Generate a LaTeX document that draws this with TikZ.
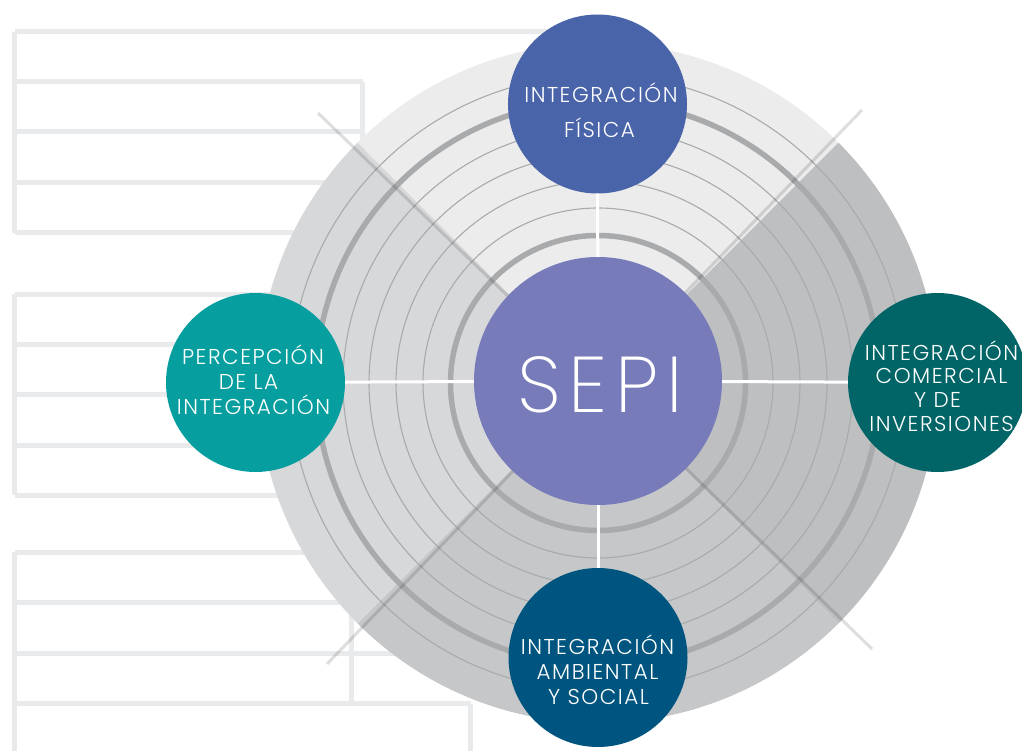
\documentclass[tikz,border=0pt]{standalone}
\usepackage{fontspec}
\newfontfamily\lightfont{Poppins Light}[LetterSpace=7]
\newfontfamily\thinfont{Poppins ExtraLight}[LetterSpace=10]
\definecolor{tbl}{HTML}{E9EAEB}
\definecolor{qT}{HTML}{ECECEC}
\definecolor{qR}{HTML}{BEBFC1}
\definecolor{qB}{HTML}{C6C7C9}
\definecolor{qL}{HTML}{D7D8DA}
\definecolor{ringc}{HTML}{A9AAAC}
\definecolor{cTop}{HTML}{4A64AA}
\definecolor{cSepi}{HTML}{777BB9}
\definecolor{cRight}{HTML}{016568}
\definecolor{cLeft}{HTML}{079E9F}
\definecolor{cBot}{HTML}{005580}
\tikzset{
  tblline/.style={draw=tbl, line width=5pt},
  thinring/.style={draw=ringc, line width=1.1pt},
  thickring/.style={draw=ringc, line width=5.5pt},
  diag/.style={draw=black, draw opacity=0.13, line width=3pt},
  conn/.style={draw=white, line width=3pt},
  sat/.style={circle, minimum size=179pt, inner sep=0pt, draw=none},
  lbl/.style={text=white, inner sep=0pt, anchor=base, font=\lightfont\fontsize{21.5}{24}\selectfont},
}
\begin{document}
\begin{tikzpicture}[x=1pt,y=-1pt]
\useasboundingbox (0,0) rectangle (1022,751);
\clip (0,0) rectangle (1022,751);
% background table outlines
\draw[tblline] (14.5,32) -- (560,32);
\draw[tblline] (14.5,32) -- (14.5,233);
\draw[tblline] (14.5,82) -- (362.5,82);
\draw[tblline] (362.5,82) -- (362.5,240);
\draw[tblline] (14.5,132) -- (362.5,132);
\draw[tblline] (14.5,183) -- (362.5,183);
\draw[tblline] (14.5,233) -- (362.5,233);
\draw[tblline] (14.5,294) -- (14.5,495);
\foreach \yy in {294,344,394.5,445,495} {\draw[tblline] (14.5,\yy) -- (300,\yy);}
\draw[tblline] (14.5,552) -- (14.5,760);
\draw[tblline] (14.5,552) -- (330,552);
\draw[tblline] (14.5,602.5) -- (351.5,602.5);
\draw[tblline] (14.5,653) -- (420,653);
\draw[tblline] (14.5,703.5) -- (470.5,703.5);
\draw[tblline] (351.5,602.5) -- (351.5,703.5);
\draw[tblline] (470.5,703.5) -- (470.5,760);
% disc with four quadrants
\coordinate (C) at (598,383);
\begin{scope}
\clip (C) circle (340pt);
\fill[qL] (C) -- (198,-17) -- (198,783) -- cycle;
\fill[qT] (C) -- (198,-17) -- (998,-17) -- cycle;
\fill[qR] (C) -- (998,-17) -- (998,783) -- cycle;
\fill[qB] (C) -- (198,783) -- (998,783) -- cycle;
\end{scope}
% rings
\foreach \r in {175,202,229,255,308} {\draw[thinring] (C) circle (\r pt);}
\foreach \r in {147.5,282} {\draw[thickring] (C) circle (\r pt);}
% diagonals
\coordinate (dNW) at (318,113);
\coordinate (dNE) at (862,110);
\coordinate (dSW) at (327,664);
\coordinate (dSE) at (872,649);
\draw[diag] (C) -- (dNW);
\draw[diag] (C) -- (dNE);
\draw[diag] (C) -- (dSW);
\draw[diag] (C) -- (dSE);
% circles
\node[circle, minimum size=248pt, inner sep=0pt, fill=cSepi] (sepi) at (598,381) {};
\node[sat, fill=cTop] (top) at (597.5,104) {};
\node[sat, fill=cRight] (right) at (937.5,382.5) {};
\node[sat, fill=cLeft] (left) at (255.5,382.5) {};
\node[sat, fill=cBot] (bot) at (598,657.5) {};
% connectors
\draw[conn] (sepi) -- (top);
\draw[conn] (sepi) -- (right);
\draw[conn] (sepi) -- (left);
\draw[conn] (sepi) -- (bot);
% labels
\node[text=white, inner sep=0pt, anchor=base, font=\thinfont\fontsize{79}{80}\selectfont] (tsepi) at (600,412) {SEPI};
\node[lbl] (t1a) at (601,103) {INTEGRACIÓN};
\node[lbl] (t1b) at (599.5,138) {FÍSICA};
\node[lbl] (t2a) at (941.5,360) {INTEGRACIÓN};
\node[lbl] (t2b) at (941.5,383.5) {COMERCIAL};
\node[lbl] (t2c) at (937.5,407.5) {Y DE};
\node[lbl] (t2d) at (941.5,431.5) {INVERSIONES};
\node[lbl] (t3a) at (253,364) {PERCEPCIÓN};
\node[lbl] (t3b) at (248.5,389) {DE LA};
\node[lbl] (t3c) at (253.5,414) {INTEGRACIÓN};
\node[lbl] (t4a) at (597.5,654) {INTEGRACIÓN};
\node[lbl] (t4b) at (597.5,679) {AMBIENTAL};
\node[lbl] (t4c) at (598.5,704) {Y SOCIAL};
\end{tikzpicture}
\end{document}
